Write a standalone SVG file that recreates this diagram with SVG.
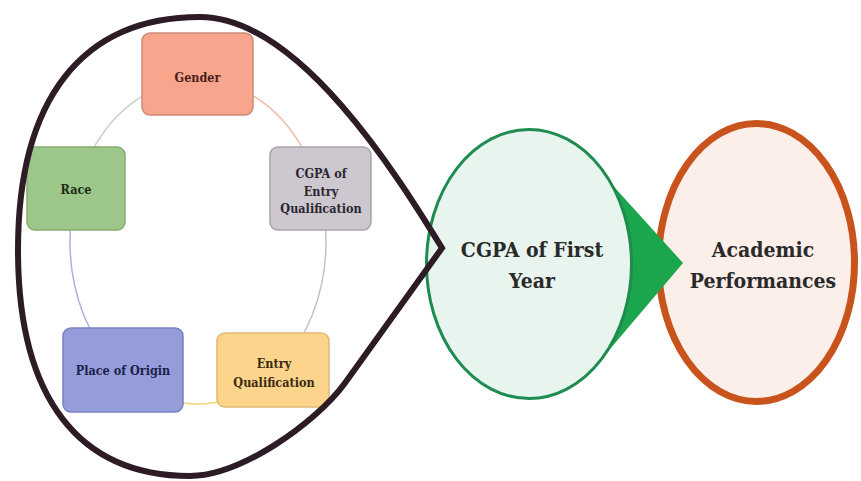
<svg xmlns="http://www.w3.org/2000/svg" width="861" height="481" viewBox="0 0 861 481">
<style>
.box{stroke-width:1.5}
.lbl{font-family:'DejaVu Serif Condensed','DejaVu Serif',serif;font-weight:bold;font-size:12.5px;text-anchor:middle}
.big{font-family:'DejaVu Serif Condensed','DejaVu Serif',serif;font-weight:bold;font-size:21px;text-anchor:middle;fill:#2a2a2a}
.arc{fill:none;stroke-width:1.5}
</style>
<rect width="861" height="481" fill="#ffffff"/>
<g id="connectors">
<path class="arc" d="M198,80 A128,162 0 0 1 308.9,161" stroke="#f2bca4"/>
<path class="arc" d="M308.9,161 A128,162 0 0 1 262,382.3" stroke="#c4c0c8"/>
<path class="arc" d="M262,382.3 A128,162 0 0 1 134,382.3" stroke="#f3d474"/>
<path class="arc" d="M134,382.3 A128,162 0 0 1 87.1,161" stroke="#aab2e0"/>
<path class="arc" d="M87.1,161 A128,162 0 0 1 198,80" stroke="#c8d2c4"/>
</g>
<g id="academic-performances">
<ellipse cx="756.5" cy="262.5" rx="98" ry="139" fill="#fcefe9" stroke="#c9531c" stroke-width="7"/>
</g>
<g id="arrow">
<polygon points="597,168 683,263 599,362" fill="#1ba64e"/>
</g>
<g id="cgpa-first-year">
<ellipse cx="529" cy="264" rx="102.5" ry="134.5" fill="#e8f5ee" stroke="#1e8c4e" stroke-width="3"/>
<text class="big" x="532" y="257">CGPA of First</text>
<text class="big" x="532" y="288">Year</text>
</g>
<g id="academic-text">
<text class="big" x="763" y="257">Academic</text>
<text class="big" x="763" y="288">Performances</text>
</g>
<g id="gender">
<rect class="box" x="142" y="33" width="111" height="82" rx="8" fill="#f7a58d" stroke="#d08a76"/>
<text class="lbl" x="197.5" y="82" fill="#4a2018">Gender</text>
</g>
<g id="race">
<rect class="box" x="27" y="147" width="98" height="83" rx="8" fill="#9cc68a" stroke="#84ad70"/>
<text class="lbl" x="76" y="194" fill="#1e2a14">Race</text>
</g>
<g id="cgpa-entry">
<rect class="box" x="270" y="147" width="101" height="83" rx="8" fill="#cdc8d0" stroke="#a8a2ac"/>
<text class="lbl" x="321" y="178" fill="#2a2530">CGPA of</text>
<text class="lbl" x="321" y="195.5" fill="#2a2530">Entry</text>
<text class="lbl" x="321" y="213" fill="#2a2530">Qualification</text>
</g>
<g id="place-of-origin">
<rect class="box" x="63" y="328" width="120" height="84" rx="8" fill="#949cda" stroke="#7880c0"/>
<text class="lbl" x="123" y="375" fill="#1c1f4a">Place of Origin</text>
</g>
<g id="entry-qualification">
<rect class="box" x="217" y="333" width="112" height="74" rx="8" fill="#fcd48c" stroke="#e0b870"/>
<text class="lbl" x="274" y="368" fill="#3a2a10">Entry</text>
<text class="lbl" x="274" y="387" fill="#3a2a10">Qualification</text>
</g>
<g id="teardrop">
<path d="M442,248 C400,180 300,17 200,17 C82,17 18,99 18,250 C18,397 78,476 190,476 C240,476 315,424 345,383 Z" fill="none" stroke="#2d1b25" stroke-width="6" stroke-linejoin="miter"/>
</g>
</svg>
